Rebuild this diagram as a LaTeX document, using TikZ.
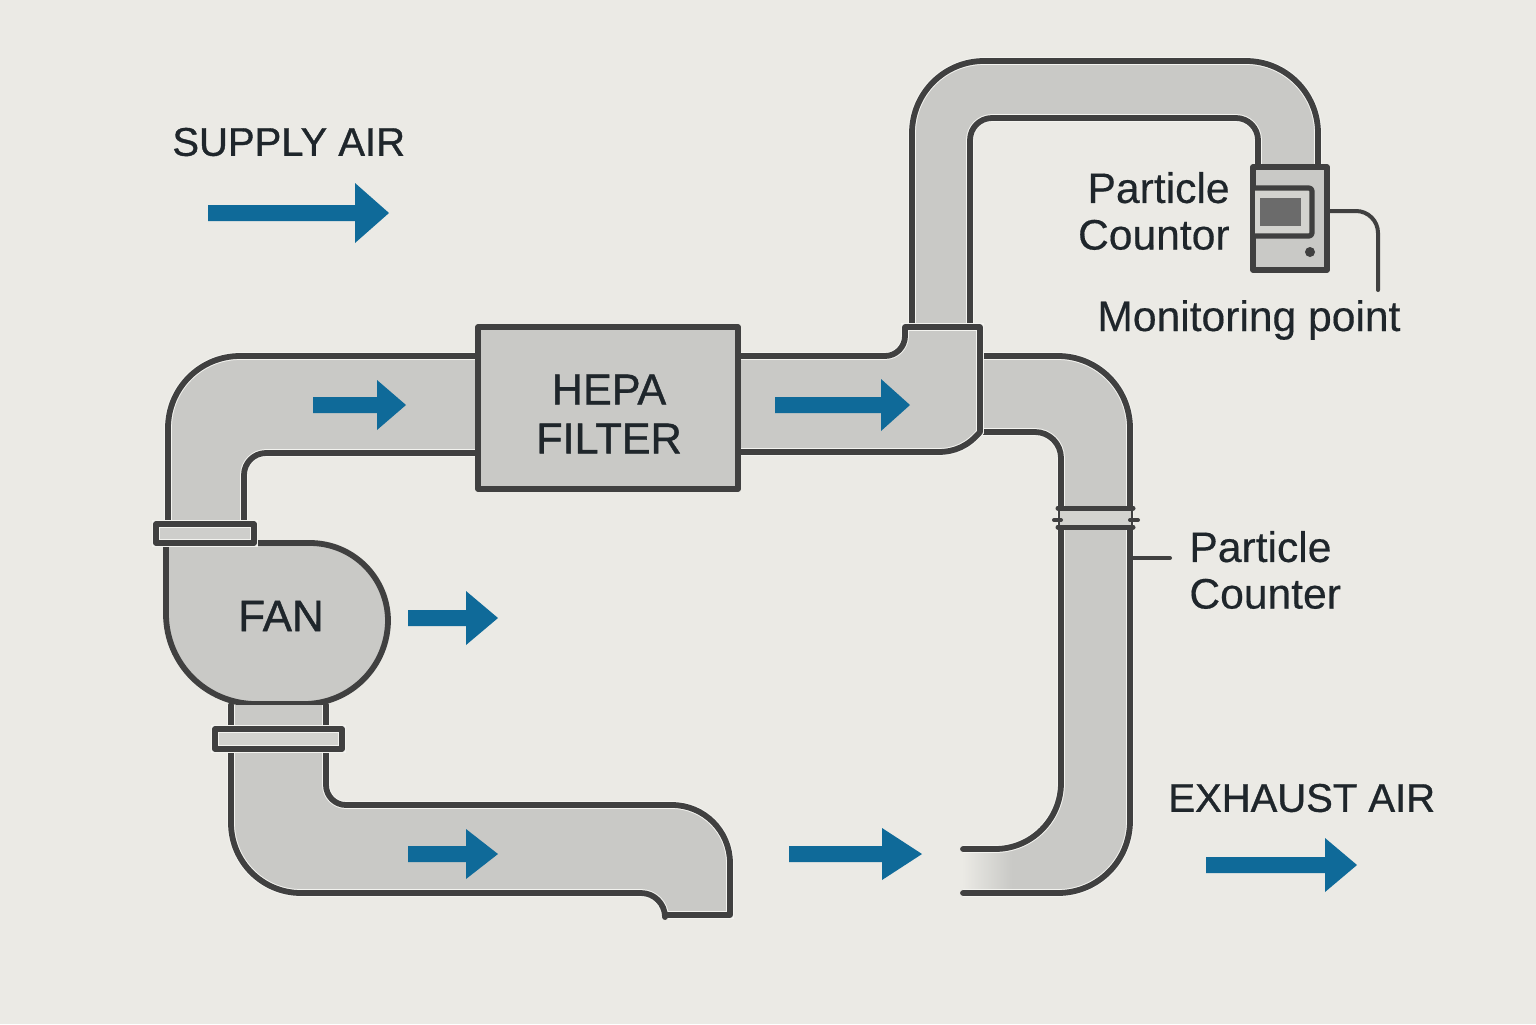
\documentclass[tikz,border=0pt]{standalone}
\usepackage{fontspec}
\setmainfont[FakeBold=0.35]{Liberation Sans}
\newfontfamily\capsfont[FakeBold=0.9]{Liberation Sans}
\definecolor{paper}{HTML}{EBEAE5}
\definecolor{duct}{HTML}{C9C9C6}
\definecolor{ink}{HTML}{404040}
\definecolor{flow}{HTML}{0F6A99}
\definecolor{halo}{HTML}{F3F3EF}
\definecolor{label}{HTML}{1F262B}
\tikzset{
  ductfill/.style={fill=duct,draw=none},
  outline/.style={draw=ink,line width=2.9pt,line join=round,line cap=round,
    preaction={draw=halo,line width=3.9pt}},
  thinline/.style={draw=ink,line width=2pt,line cap=round,line join=round},
  part/.style={fill=duct,draw=ink,line width=2.9pt,line join=round,outer sep=0pt},
  arrowbody/.style={fill=flow,draw=none},
  caption/.style={text=label,inner sep=0pt},
  capsize/.style={font=\capsfont\fontsize{20}{25}\selectfont},
  lowersize/.style={font=\fontsize{21.3}{23.3}\selectfont},
}
% A flow arrow: shaft start, head start, tip, centre line, half shaft, half head
\newcommand{\flowarrow}[6]{%
  \fill[arrowbody] (#1,#4-#5) -- (#2,#4-#5) -- (#2,#4-#6) -- (#3,#4)
    -- (#2,#4+#6) -- (#2,#4+#5) -- (#1,#4+#5) -- cycle;}
\begin{document}
\begin{tikzpicture}[x=0.5pt,y=-0.5pt]
\useasboundingbox (0,0) rectangle (1536,1024);
\fill[paper] (0,0) rectangle (1536,1024);

% Riser up to the particle counter
\fill[ductfill] (912,327) [rounded corners=36pt] -- (912,61) -- (1318,61) [sharp corners] -- (1318,168) -- (1258,168) [rounded corners=11pt] -- (1258,118) -- (970,118) [sharp corners] -- (970,327) -- cycle;
\draw[outline] (912,327) [rounded corners=36pt] -- (912,61) -- (1318,61) [sharp corners] -- (1318,168);
\draw[outline] (970,327) [rounded corners=11pt] -- (970,118) -- (1258,118) [sharp corners] -- (1258,168);

% Return duct on the right, open at its lower end
\fill[ductfill] (980,356) [rounded corners=36pt] -- (1130,356) -- (1130,893) [sharp corners] -- (1010,893) -- (1010,849) [rounded corners=33pt] -- (1061,849) [rounded corners=13pt] -- (1061,432) [sharp corners] -- (980,432) -- cycle;
\shade[left color=paper,right color=duct] (962,851) rectangle (1012,891);
\draw[outline] (980,356) [rounded corners=36pt] -- (1130,356) -- (1130,893) [sharp corners] -- (963,893);
\draw[outline] (980,432) [rounded corners=13pt] -- (1061,432) [sharp corners] -- (1061,780) [rounded corners=33pt] -- (1061,849) [sharp corners] -- (963,849);

% Band clamp with side tabs and the leader to its label
\fill[duct!70!paper] (1060,508) rectangle (1131,527);
\draw[thinline,line width=2.5pt] (1058,508) -- (1133,508);
\draw[thinline,line width=2.5pt] (1058,527) -- (1133,527);
\draw[thinline] (1054,520) -- (1061,520);
\draw[thinline] (1130,520) -- (1138,520);
\coordinate (cntleader) at (1170,558);
\draw[thinline] (1131,558) -- (cntleader);

% Duct from the fan up to the filter
\fill[ductfill] (168,525) [rounded corners=36pt] -- (168,356) [sharp corners] -- (478,356) -- (478,453) [rounded corners=11pt] -- (244,453) [sharp corners] -- (244,525) -- cycle;
\draw[outline] (168,525) [rounded corners=36pt] -- (168,356) [sharp corners] -- (478,356);
\draw[outline] (244,525) [rounded corners=11pt] -- (244,453) [sharp corners] -- (478,453);

% Duct from the filter into the elbow box
\path[ductfill] (738,356) [rounded corners=10pt] -- (905,356) [sharp corners] -- (905,327) -- (980,327) -- (980,432) .. controls (968,446) and (955,452) .. (938,452) -- (738,452) -- cycle;
\draw[outline] (738,356) [rounded corners=10pt] -- (905,356) [sharp corners] -- (905,327) -- (980,327) -- (980,432) .. controls (968,446) and (955,452) .. (938,452) -- (738,452);

% Filter housing
\node[part,draw,minimum width=130pt,minimum height=81pt,inner sep=0pt,anchor=north west] (filter) at (478,327) {};
\node[caption,font=\capsfont\fontsize{21.6}{24.5}\selectfont,align=center] (filtertext) at (609,414) {HEPA\\FILTER};

% Fan casing, its clamps and the neck below
\path[part] (166,543) [rounded corners=39pt] -- (388,543) [rounded corners=42pt] -- (388,704) [rounded corners=45pt] -- (166,704) [sharp corners] -- cycle;
\node[caption,font=\capsfont\fontsize{22}{25}\selectfont] (fantext) at (281,616) {FAN};
\fill[duct!85!paper] (156,524) rectangle (254,543);
\draw[outline] (156,524) rectangle (254,543);
\fill[ductfill] (231,705) rectangle (326,729);
\draw[outline] (231,705) -- (231,729);
\draw[outline] (326,705) -- (326,729);

% Lower inlet duct
\fill[ductfill] (231,749) [rounded corners=35pt] -- (231,893) [rounded corners=12pt] -- (665,893) [sharp corners] -- (665,915) -- (730,915) [rounded corners=29pt] -- (730,805) [rounded corners=10pt] -- (326,805) [sharp corners] -- (326,749) -- cycle;
\draw[outline] (231,749) [rounded corners=35pt] -- (231,893) [rounded corners=12pt] -- (665,893) [sharp corners] -- (665,915) -- (730,915) [rounded corners=29pt] -- (730,805) [rounded corners=10pt] -- (326,805) [sharp corners] -- (326,749);
\fill[duct!70!paper] (215,729) rectangle (342,749);
\draw[outline] (215,729) rectangle (342,749);

% Particle counter unit
\node[part,minimum width=37pt,minimum height=51.5pt,inner sep=0pt,anchor=north west] (unit) at (1253,167) {};
\fill[duct!70!paper] (1255,190) rectangle (1311,235);
\draw[thinline,line width=2.6pt] (1253,188) [rounded corners=1.5pt] -- (1312,188) -- (1312,236) [sharp corners] -- (1253,236);
\fill[black!58] (1260,198) rectangle (1301,226);
\fill[ink] (1310,252) circle[radius=5];
\coordinate (monleader) at (1378,290);
\draw[thinline] (unit.east |- 0,211) [rounded corners=11pt] -- (1378,211) [sharp corners] -- (monleader);

% Flow arrows
\flowarrow{208}{355}{389}{213}{8}{30}
\flowarrow{313}{377}{406}{405}{8}{25}
\flowarrow{775}{881}{910}{405}{8}{26}
\flowarrow{408}{466}{498}{618}{8}{27}
\flowarrow{408}{466}{498}{854}{8}{25}
\flowarrow{789}{882}{922}{854}{8}{26}
\flowarrow{1206}{1325}{1357}{865}{8}{27}

% Labels
\node[caption,capsize,anchor=west] (supply) at (172,142) {SUPPLY AIR};
\node[caption,capsize,anchor=west] (exhaust) at (1168,798) {EXHAUST AIR};
\node[caption,lowersize,align=right,anchor=east] (unitlabel) at (1230,211) {Particle\\Countor};
\node[caption,lowersize,anchor=west] (monlabel) at (1097,320) {Monitoring point};
\node[caption,lowersize,align=left,anchor=west] (cntlabel) at (1189,570) {Particle\\Counter};
\end{tikzpicture}
\end{document}
